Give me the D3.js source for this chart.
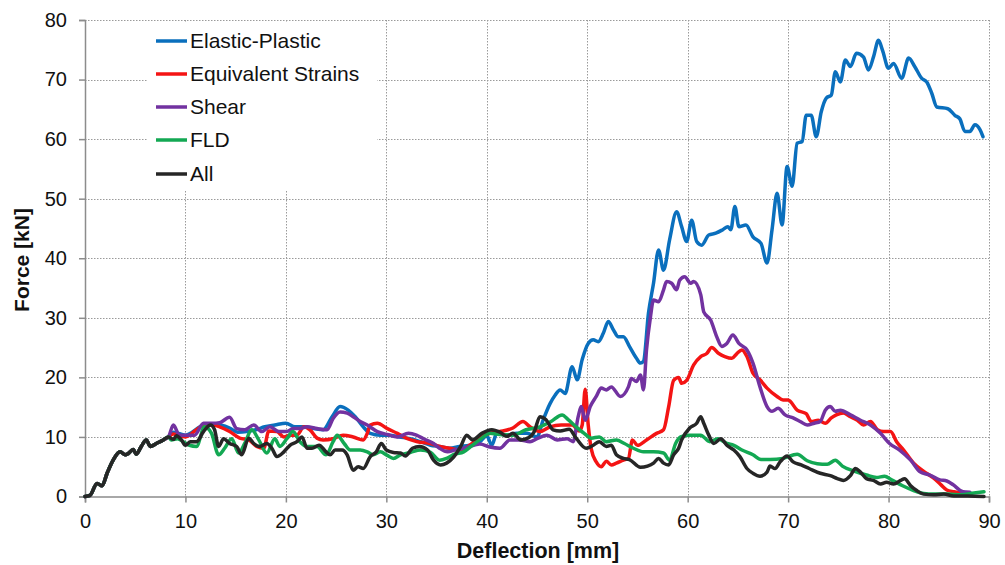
<!DOCTYPE html>
<html>
<head>
<meta charset="utf-8">
<script src="https://cdn.jsdelivr.net/npm/d3@7"></script>
<style>
  html, body { margin: 0; padding: 0; background: #fff; }
  svg { display: block; font-family: Arial, "Liberation Sans", sans-serif; }
</style>
</head>
<body>
<div id="chart"></div>
<script>
// ---------- DATA ----------
const xTicks = [0, 10, 20, 30, 40, 50, 60, 70, 80, 90];
const yTicks = [0, 10, 20, 30, 40, 50, 60, 70, 80];
const seriesNames = ["Elastic-Plastic", "Equivalent Strains", "Shear", "FLD", "All"];
const seriesColors = ["#0A6FBD", "#F41414", "#7232A0", "#13A853", "#262626"];

const commonStart = [[0,0],[0.5,0.2],[1.2,2.2],[1.7,1.8],[2.2,3.9],[2.8,6.1],[3.5,7.5],[4,7],[4.3,7.2],[4.8,7.9],[5.1,7.1],[5.6,8.4],[6.1,9.5],[6.5,8.4],[7.1,8.9],[7.8,9.5],[8.3,10]];

const elasticPlastic = [[8.8,10.8],[10,10.3],[11.8,12],[12.7,12.2],[13.5,12],[14.4,11.5],[15.2,10.8],[16.1,10.9],[17,11.2],[17.9,11.7],[18.9,12],[20,12.3],[20.9,11.7],[21.8,11.7],[22.8,11.4],[23.7,11.2],[24.6,13.4],[25.4,15.1],[26.2,14.5],[26.9,13.4],[27.7,11.7],[28.4,10.6],[29.4,10.3],[30.3,10.3],[31.3,10],[32.4,9.7],[33.4,9.2],[34.4,8.6],[35.3,8.4],[36.3,8.1],[37.3,8.4],[38.3,8.6],[39.3,9.2],[40,10.2],[40.5,8.6],[41,10.6],[42,10.3],[43,10.6],[44,10.6],[45,10],[45.6,12.8],[46.3,15.6],[46.8,17],[47.3,17.9],[47.8,17.3],[48.5,21.8],[49,19.6],[49.5,23],[50.1,25.7],[50.6,26.3],[51.1,26],[51.6,27.4],[52.1,29.4],[52.6,28],[53.1,26.8],[53.6,26.8],[54.2,25.2],[54.9,23.2],[55.3,22.4],[55.6,22.7],[56.1,30.8],[56.6,35.8],[57.1,41.4],[57.6,38],[58.2,43.1],[58.9,47.8],[59.4,45.3],[59.9,42.8],[60.4,46.4],[60.9,42.8],[61.4,42.2],[62.1,43.9],[62.8,44.2],[63.5,44.8],[64,45.3],[64.3,44.8],[64.7,48.7],[65.1,45.3],[65.8,45.6],[66.5,43.6],[67.3,42.5],[67.9,39.2],[68.4,44.8],[68.9,50.9],[69.4,45.6],[69.9,55.4],[70.4,52.1],[70.9,59.3],[71.4,59.6],[71.8,64],[72.3,64],[72.8,60.4],[73.3,64.6],[73.8,66.9],[74.3,67.4],[74.7,71.3],[75.2,69.6],[75.7,73.3],[76.2,72.2],[76.8,74.4],[77.5,73.8],[78,71.6],[78.5,73.8],[79,76.6],[79.4,74.9],[80,71.9],[80.5,72.7],[81.3,70.2],[82,73.6],[82.6,72.2],[83.3,70.2],[83.8,69.6],[84.3,67.7],[84.8,65.4],[85.9,65.1],[86.6,64],[87.1,63.4],[87.6,61.3],[88.1,61.3],[88.6,62.4],[89.1,61.6],[89.4,60.4]];

const equivalentStrains = [[8.8,10.5],[10,10],[11.1,11.2],[11.9,12],[12.7,12],[13.4,11.7],[14.4,10.9],[15.4,9.8],[16.3,9.5],[17.1,8.4],[17.8,8.1],[18.3,11],[19.1,10.9],[19.8,10],[20.4,10.3],[21.1,10.3],[21.8,11.7],[22.4,11.2],[23.1,9.8],[23.7,9.5],[24.7,9.7],[25.7,10.3],[26.7,10],[27.7,9.5],[28.1,10.6],[28.4,12],[29.1,12.3],[30.1,11.4],[31.1,10.6],[32.1,9.7],[33.1,9.2],[34.4,8.9],[35.3,8.4],[36.3,8.1],[37.3,7.8],[38.3,8.6],[39.3,10],[40.3,10.6],[41.3,10.9],[42.6,11.5],[43.6,12.6],[44.3,11.7],[45.3,10.9],[46.3,11.7],[47.4,12],[48.5,12],[49.2,11],[49.5,12],[49.8,18],[50.1,12],[50.4,8],[50.9,5.8],[51.4,5],[51.9,5.9],[52.4,5.3],[52.9,5.6],[53.6,6.1],[54.1,6.4],[54.5,9.5],[55,8.6],[55.9,9.5],[56.9,10.6],[57.6,11.2],[58.1,15],[58.6,19.5],[59.1,20],[59.4,19],[59.9,19.5],[60.6,22.1],[61.3,23.5],[61.9,24],[62.4,25],[63.1,24],[63.7,23.5],[64.4,23.2],[64.9,24],[65.4,24.6],[65.9,23.5],[66.5,20.7],[67.2,19.6],[67.9,18.2],[68.9,16.8],[69.5,16.2],[70,16.2],[70.9,14.5],[71.8,13.9],[72.3,12.6],[73,12.8],[73.7,12.3],[74.3,13.2],[74.8,13.7],[75.5,14],[76.2,13.4],[76.9,12.8],[77.5,12],[78.2,12.6],[78.9,11.2],[79.5,10.9],[80.2,10.9],[80.8,9.2],[81.5,7.8],[82.5,5.6],[83.5,4.2],[84.5,3.1],[85.2,2],[85.8,1.1],[86.5,0.8],[87.5,0.5]];

const shear = [[8.8,12],[9.4,10.3],[10.1,10.3],[10.9,10.3],[11.8,12.3],[12.7,12.3],[13.4,12.4],[14.4,13.3],[15.1,11.4],[15.9,11.2],[16.8,12],[17.6,10.9],[18.4,11.7],[19.3,10.9],[20.1,10.9],[20.7,11.4],[21.4,11.4],[22.1,11.7],[23.1,11.4],[24.1,11.2],[24.7,13.1],[25.4,14.2],[26.1,14],[26.7,13.4],[27.4,12.6],[28.1,12],[29.1,10.9],[30.1,10.4],[31.1,10],[32.2,10.6],[33,10.3],[33.7,9.7],[34.7,8.9],[35.3,8.1],[36.1,7.5],[36.8,7.8],[37.7,8.1],[38.7,8.6],[39.3,8.8],[40.3,8.3],[41.3,8.1],[42.3,9.5],[43.3,9.5],[44.3,9.2],[45,9.7],[46,10.3],[47,9.5],[48,9.7],[48.6,9.2],[49.1,13.4],[49.4,15.1],[49.8,12.8],[50.3,15.1],[50.9,16.8],[51.4,18.2],[51.9,17.9],[52.4,18.4],[53.3,16.8],[54.1,18.4],[54.4,19.8],[54.9,19.3],[55.3,20.4],[55.6,17.9],[55.9,24.6],[56.3,30.2],[56.6,33],[57.1,32.7],[57.6,34.7],[57.9,36.1],[58.4,35.8],[58.9,34.7],[59.2,36.3],[59.7,36.9],[60.3,35.8],[60.6,36.1],[61.3,33.9],[61.6,31],[62.3,29.6],[62.9,26.8],[63.4,25.2],[63.9,25.7],[64.5,27.1],[65.1,25.7],[65.9,24.6],[66.5,22.4],[67.2,18.4],[67.9,15.1],[68.4,14.3],[69,14.8],[69.7,13.7],[70.5,13.2],[71.2,12.6],[71.9,12],[72.6,12.3],[73.2,12.6],[73.7,14.5],[74.2,15.1],[74.7,14.3],[75.2,14.5],[76.2,13.7],[77.2,12.8],[78.2,12],[79.2,10.6],[80.1,8.9],[81.1,7.8],[82.2,6.1],[83.1,4.2],[84.1,3.6],[85.1,2.8],[85.8,2.6],[86.4,2],[87.4,0.8],[88.1,0.7]];

const fld = [[8.6,9.5],[9.2,9.7],[9.8,9.2],[10.4,8.6],[11.1,8.4],[11.9,11.7],[12.6,10.6],[13.3,7],[13.9,8.1],[14.6,9.7],[15.3,7.3],[15.9,8.9],[16.6,11.2],[17.3,9.5],[18.1,7.3],[18.9,9.7],[19.4,8.4],[20.1,9.7],[20.7,10.9],[21.4,9.2],[22.1,8.4],[23.1,8.4],[24,7],[24.7,9.2],[25.1,10.3],[25.8,8.9],[26.4,7.8],[27.4,7.8],[28.1,7.5],[28.7,7],[29.4,7.5],[30.1,6.9],[30.7,6.4],[31.4,7],[32.4,7.4],[33.4,7.8],[34.4,7.4],[35.3,6.1],[36,6.4],[36.8,7.1],[37.7,7.5],[38.5,8.5],[39.5,9.8],[40.3,10.6],[41.3,10.4],[42.6,10.3],[43.9,11.2],[45.3,11.7],[46.4,12.6],[47.5,13.7],[48.1,12.9],[48.9,11.7],[49.7,10.6],[50.4,9.8],[51.2,10],[51.9,9.2],[52.9,9.5],[53.7,8.9],[54.6,8.1],[55.6,7.5],[56.6,7.5],[57.6,7.3],[58.2,6.1],[58.8,8.9],[59.3,10],[60.1,10.3],[61.3,10.3],[62.2,9.2],[63,9.7],[63.9,8.9],[64.6,8.6],[65.4,7.8],[66.5,7],[67.3,6.2],[68.2,6.2],[69.5,6.4],[70.9,7.1],[71.9,6],[72.9,5.5],[73.9,5.4],[74.7,6.1],[75.4,5.1],[76.5,4.3],[77.8,3.6],[78.8,3.2],[79.6,3.4],[80.3,2.8],[81.4,1.8],[82.5,1],[83.5,0.5],[84.5,0.4],[85.9,0.4],[87.2,0.3],[88.5,0.6],[89.5,0.8]];

const all = [[8.8,9.6],[9.1,10.2],[9.6,9.5],[10,8.6],[10.5,9.2],[11.1,9.2],[11.8,10.9],[12.5,12],[12.9,11.2],[13.3,8.4],[13.8,9.7],[14.4,8.9],[15.1,8.4],[15.6,7],[16.3,9.8],[16.8,8.9],[17.4,8.4],[18.1,8.9],[18.6,8.1],[19.1,6.7],[19.8,7.5],[20.4,8.6],[21.1,9.2],[21.6,10],[22.1,8.1],[22.6,8.1],[23.3,8.6],[24,7.5],[24.4,7],[24.9,7.8],[25.6,7.8],[26.1,7],[26.7,4.4],[27.2,5],[27.7,4.7],[28.4,6.7],[29,7.5],[29.5,8.9],[30,7.8],[30.7,7.4],[31.4,7.3],[31.9,6.8],[32.6,8.1],[33.3,8.4],[34.1,7.8],[34.7,6.1],[35.4,5.3],[36,5.6],[36.7,6.6],[37.4,8.4],[38,10.3],[38.6,9.5],[39.5,10.6],[40.5,11.2],[41.3,10.8],[42,10.1],[42.6,10.6],[43.4,9.5],[44.2,9.9],[44.7,10.8],[45.3,13.4],[45.9,12.9],[46.6,11.2],[47.3,11],[48.2,11.3],[48.9,9.8],[49.9,8.1],[50.6,8.6],[51.2,9.2],[51.9,8.4],[52.4,8.6],[52.9,7],[53.6,6.4],[54.2,6.2],[55.3,4.9],[56,5.1],[56.6,5.6],[57.1,6.4],[57.6,5.6],[58.1,5.3],[58.6,7],[59.1,8.1],[59.4,9.5],[60.2,11.5],[60.9,12.3],[61.3,13.4],[61.6,12.3],[62.1,10.3],[62.6,8.9],[63.3,9.7],[63.9,8.6],[64.6,7.8],[65.2,6.7],[65.9,4.7],[66.5,3.9],[67.2,3.4],[67.9,4.1],[68.2,5.1],[68.7,4.7],[69.2,5.8],[69.9,6.8],[70.5,5.8],[71.3,5.3],[72.1,4.7],[73.2,3.9],[74.2,3.5],[74.9,3],[75.5,2.7],[76.2,3.5],[76.7,4.7],[77.2,4.1],[77.8,3],[78.5,2.7],[79.2,2.1],[79.8,2.4],[80.5,2.1],[81.2,2.7],[81.6,3],[82.2,1.8],[82.8,1],[83.5,0.4],[84.5,0.3],[85.5,0.4],[86.5,0.1],[87.9,0.1],[89.5,0]];

const seriesData = [elasticPlastic, equivalentStrains, shear, fld, all].map(s => commonStart.concat(s));

// ---------- LAYOUT ----------
const W = 1005, H = 565;
const plot = { left: 85, right: 989, top: 20, bottom: 496.5 };

const svg = d3.select("#chart").append("svg").attr("width", W).attr("height", H);

const x = d3.scaleLinear().domain([0, 90]).range([plot.left, plot.right]);
const y = d3.scaleLinear().domain([0, 80]).range([plot.bottom, plot.top]);

// gridlines
const grid = svg.append("g").attr("stroke", "#9a9a9a").attr("stroke-width", 1).attr("stroke-dasharray", "1.5,1.5");
grid.selectAll("line.h").data(yTicks.filter(d => d > 0)).join("line")
  .attr("x1", plot.left).attr("x2", plot.right)
  .attr("y1", d => Math.round(y(d)) + 0.5).attr("y2", d => Math.round(y(d)) + 0.5);
grid.selectAll("line.v").data(xTicks.filter(d => d > 0)).join("line")
  .attr("y1", plot.top).attr("y2", plot.bottom)
  .attr("x1", d => Math.round(x(d)) + 0.5).attr("x2", d => Math.round(x(d)) + 0.5);

// axes
const xAxis = svg.append("g").attr("transform", `translate(0,${plot.bottom})`)
  .call(d3.axisBottom(x).tickValues(xTicks).tickSize(6).tickPadding(11));
const yAxis = svg.append("g").attr("transform", `translate(${plot.left},0)`)
  .call(d3.axisLeft(y).tickValues(yTicks).tickSize(6).tickPadding(12));
[xAxis, yAxis].forEach(a => {
  a.select(".domain").attr("stroke", "#8c8c8c").attr("stroke-width", 1.5);
  a.selectAll(".tick line").attr("stroke", "#8c8c8c").attr("stroke-width", 1.5);
  a.selectAll(".tick text").attr("fill", "#111").style("font-size", "20px")
    .style("font-family", "Arial, 'Liberation Sans', sans-serif");
});

// legend background
svg.append("rect").attr("x", 148).attr("y", 22).attr("width", 229).attr("height", 168).attr("fill", "#fff");

// lines
const line = d3.line().x(d => x(d[0])).y(d => y(d[1])).curve(d3.curveMonotoneX);
svg.append("g").selectAll("path").data(seriesData).join("path")
  .attr("d", line)
  .attr("fill", "none")
  .attr("stroke", (d, i) => seriesColors[i])
  .attr("stroke-width", 3.5)
  .attr("stroke-linejoin", "round")
  .attr("stroke-linecap", "round");

// legend
const legendRowY = [41, 74, 107, 140, 174];
const leg = svg.append("g");
seriesNames.forEach((name, i) => {
  leg.append("line").attr("x1", 156).attr("x2", 187)
    .attr("y1", legendRowY[i]).attr("y2", legendRowY[i])
    .attr("stroke", seriesColors[i]).attr("stroke-width", 3.5);
  leg.append("text").attr("x", 190).attr("y", legendRowY[i]).attr("dy", "0.35em")
    .style("font-size", "21px").attr("fill", "#111").text(name);
});

// axis titles
svg.append("text").attr("x", 538).attr("y", 558).attr("text-anchor", "middle")
  .style("font-size", "21.5px").style("font-weight", "bold").attr("fill", "#111")
  .text("Deflection [mm]");
svg.append("text").attr("transform", "translate(22,260) rotate(-90)")
  .attr("text-anchor", "middle").attr("dy", "0.35em")
  .style("font-size", "21px").style("font-weight", "bold").attr("fill", "#111")
  .text("Force [kN]");
</script>
</body>
</html>
